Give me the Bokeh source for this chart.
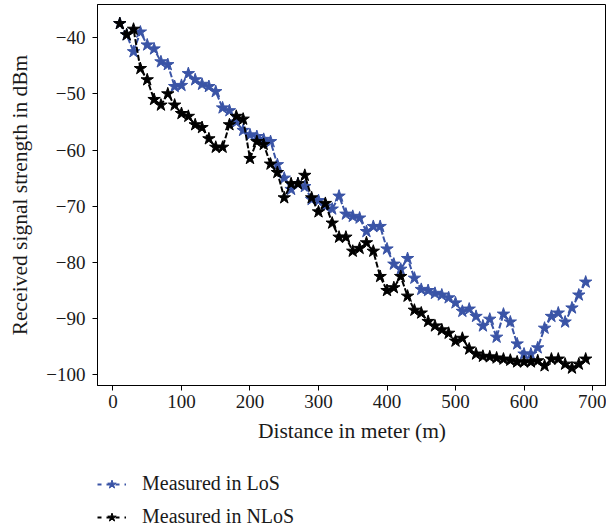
from bokeh.plotting import figure
from bokeh.layouts import column
from bokeh.models import Range1d, Legend, LegendItem, FixedTicker
from bokeh.embed import file_html
from bokeh.resources import INLINE

distance_m = [10, 20, 30, 40, 50, 60, 70, 80, 90, 100,
              110, 120, 130, 140, 150, 160, 170, 180, 190, 200,
              210, 220, 230, 240, 250, 260, 270, 280, 290, 300,
              310, 320, 330, 340, 350, 360, 370, 380, 390, 400,
              410, 420, 430, 440, 450, 460, 470, 480, 490, 500,
              510, 520, 530, 540, 550, 560, 570, 580, 590, 600,
              610, 620, 630, 640, 650, 660, 670, 680, 690]

los_dbm = [-37.5, -39.5, -42.5, -39.0, -41.3, -42.0, -44.3, -44.8, -48.7, -48.5,
           -46.4, -47.5, -48.3, -48.7, -49.6, -52.5, -53.0, -55.0, -56.5, -57.3,
           -57.6, -58.1, -58.5, -62.6, -65.0, -67.0, -66.0, -66.5, -68.8, -69.0,
           -70.0, -70.5, -68.2, -71.4, -71.8, -72.1, -74.5, -73.6, -73.6, -77.6,
           -80.3, -81.2, -79.3, -82.8, -84.8, -85.0, -85.5, -85.8, -86.3, -87.2,
           -88.7, -88.3, -89.6, -91.3, -90.1, -93.3, -89.2, -90.6, -94.5, -96.3,
           -96.3, -95.2, -91.7, -89.6, -89.0, -90.6, -88.1, -85.8, -83.5]

nlos_dbm = [-37.5, -39.5, -38.5, -45.5, -47.5, -51.0, -52.0, -50.0, -52.0, -53.5,
            -54.0, -55.5, -56.0, -58.0, -59.5, -59.5, -55.5, -54.0, -54.5, -61.5,
            -58.5, -59.0, -62.5, -64.0, -68.5, -66.0, -66.0, -64.5, -68.5, -71.0,
            -69.5, -73.0, -75.5, -75.5, -78.0, -77.5, -76.5, -78.0, -82.5, -85.0,
            -84.5, -82.5, -86.0, -88.5, -89.0, -90.5, -91.3, -92.0, -92.6, -94.0,
            -93.5, -95.4, -96.3, -96.7, -96.8, -97.0, -97.2, -97.4, -97.7, -97.7,
            -97.7, -97.5, -98.4, -97.2, -97.2, -98.1, -98.8, -98.1, -97.2]

x_ticks = [0, 100, 200, 300, 400, 500, 600, 700]
y_ticks = [-100, -90, -80, -70, -60, -50, -40]
y_tick_labels = ["\u2212100", "\u221290", "\u221280", "\u221270", "\u221260", "\u221250", "\u221240"]

series_names = ["Measured in LoS", "Measured in NLoS"]
x_label = "Distance in meter (m)"
y_label = "Received signal strength in dBm"

BLUE = "#3a54a6"
BLACK = "#000000"
FONT = "Liberation Serif"
DASH = "6 2"

# ---------------- main chart ----------------
p = figure(width=606, height=450, output_backend="svg", toolbar_location=None,
           x_range=Range1d(-22.6, 720.4), y_range=Range1d(-101.9, -34.1),
           min_border_left=97, min_border_right=0, min_border_top=4,
           min_border_bottom=65)

p.xgrid.visible = False
p.ygrid.visible = False
p.outline_line_color = "black"
p.outline_line_width = 1
p.background_fill_color = "white"
p.border_fill_color = "white"

for ax in (p.xaxis[0], p.yaxis[0]):
    ax.axis_line_color = "black"
    ax.major_tick_line_color = "black"
    ax.major_tick_out = 5
    ax.major_tick_in = 0
    ax.minor_tick_line_color = None
    ax.major_label_text_font = FONT
    ax.major_label_text_font_size = "19px"
    ax.major_label_text_color = "#1a1a1a"
    ax.axis_label_text_font = FONT
    ax.axis_label_text_font_size = "21.5px"
    ax.axis_label_text_font_style = "normal"
    ax.axis_label_text_color = "#1a1a1a"

p.xaxis[0].ticker = FixedTicker(ticks=x_ticks)
p.yaxis[0].ticker = FixedTicker(ticks=y_ticks)
p.yaxis[0].major_label_overrides = {t: l for t, l in zip(y_ticks, y_tick_labels)}
p.xaxis[0].major_label_standoff = 4
p.yaxis[0].major_label_standoff = 7
p.xaxis[0].axis_label = x_label
p.yaxis[0].axis_label = y_label
p.xaxis[0].axis_label_standoff = 8
p.yaxis[0].axis_label_standoff = 11

p.line(distance_m, los_dbm, line_color=BLUE, line_width=2, line_dash=DASH)
p.scatter(distance_m, los_dbm, marker="star", size=13, fill_color=BLUE, line_color=BLUE)
p.line(distance_m, nlos_dbm, line_color=BLACK, line_width=2, line_dash=DASH)
p.scatter(distance_m, nlos_dbm, marker="star", size=13, fill_color=BLACK, line_color=BLACK)

# ---------------- legend strip below the chart ----------------
q = figure(width=606, height=80, output_backend="svg", toolbar_location=None,
           x_range=Range1d(0, 1), y_range=Range1d(0, 1),
           x_axis_location=None, y_axis_location=None,
           min_border_left=0, min_border_right=0, min_border_top=0,
           min_border_bottom=0)
q.xgrid.visible = False
q.ygrid.visible = False
q.outline_line_color = None
q.border_fill_color = "white"

# legend keys reuse the series (they lie outside this strip's ranges)
kl = q.line(distance_m, los_dbm, line_color=BLUE, line_width=2, line_dash="4 5")
ks = q.scatter(distance_m, los_dbm, marker="star", size=13, fill_color=BLUE, line_color=BLUE)
nl = q.line(distance_m, nlos_dbm, line_color=BLACK, line_width=2, line_dash="4 5")
ns = q.scatter(distance_m, nlos_dbm, marker="star", size=13, fill_color=BLACK, line_color=BLACK)

legend = Legend(items=[LegendItem(label=series_names[0], renderers=[kl, ks]),
                       LegendItem(label=series_names[1], renderers=[nl, ns])],
                location=(0, 2), orientation="vertical",
                label_text_font=FONT, label_text_font_size="20px",
                label_text_color="#1a1a1a",
                glyph_width=29, glyph_height=22, label_height=22,
                label_standoff=16, spacing=10, padding=0, margin=0,
                border_line_alpha=0, background_fill_alpha=0)
q.add_layout(legend, "center")

layout = column(p, q, spacing=0)
open("out.html", "w").write(file_html(layout, INLINE))
